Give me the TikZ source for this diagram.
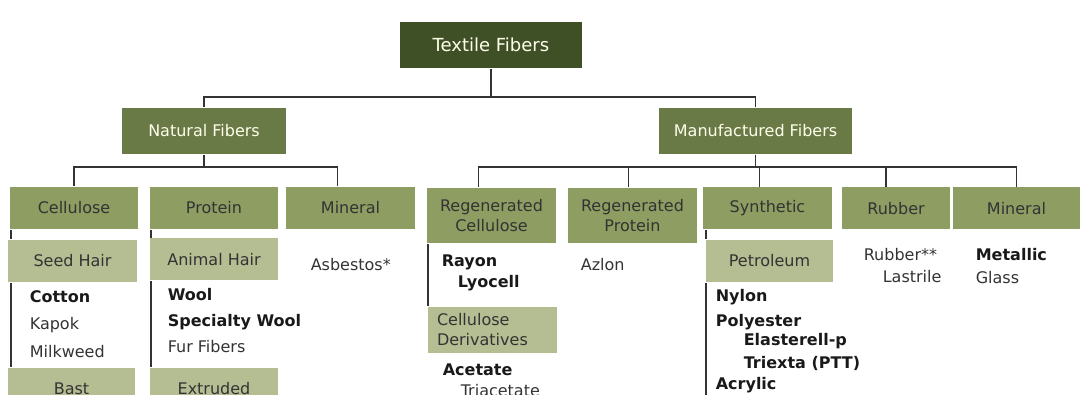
\documentclass[tikz,border=0pt]{standalone}
\usepackage{fontspec}
\setmainfont{DejaVu Sans}
\definecolor{darkgreen}{HTML}{3F5027}
\definecolor{midgreen}{HTML}{6A7A46}
\definecolor{sagegreen}{HTML}{8E9D62}
\definecolor{palegreen}{HTML}{B5BD92}
\def\bush{12}

\begin{document}
\begin{tikzpicture}[x=1pt,y=-1pt,draw=black!80,line width=1.6pt]
  \tikzstyle{every node}=[font=\fontsize{16}{20}\selectfont]
  \tikzstyle{topbox}=[fill=darkgreen,text=white!92!yellow,minimum height=46,inner sep=0pt]
  \tikzstyle{groupbox}=[fill=midgreen,text=white!92!yellow,minimum height=46,inner sep=0pt]
  \tikzstyle{kindbox}=[fill=sagegreen,text=black!80,minimum height=42,minimum width=128,inner sep=0pt,align=center]
  \tikzstyle{subbox}=[fill=palegreen,text=black!80,minimum height=42,minimum width=128,inner sep=0pt,align=center]
  \tikzstyle{fibre}=[anchor=west,inner sep=0pt,text=black!80]
  \tikzstyle{bfibre}=[fibre,text=black!90,font=\fontsize{16}{20}\selectfont\bfseries]

  \useasboundingbox (0,0) rectangle (1081,395);
  \clip (0,0) rectangle (1081,395);

  % top levels
  \node[topbox,minimum width=182,font=\fontsize{18}{22}\selectfont] (T) at (491,45) {Textile Fibers};
  \node[groupbox,minimum width=164] (N) at (204,131) {Natural Fibers};
  \node[groupbox,minimum width=193] (M) at (755.5,131) {Manufactured Fibers};

  % natural kinds
  \node[kindbox] (N-1) at (74,208) {Cellulose};
  \node[kindbox] (N-2) at (214,208) {Protein};
  \node[kindbox,minimum width=129] (N-3) at (350.5,208) {Mineral};

  % manufactured kinds
  \node[kindbox,minimum width=129,minimum height=55] (M-1) at (491.5,215.5) {Regenerated\\Cellulose};
  \node[kindbox,minimum width=129,minimum height=55] (M-2) at (632.5,215.5) {Regenerated\\Protein};
  \node[kindbox,minimum width=129] (M-3) at (767.5,208.5) {Synthetic};
  \node[kindbox,minimum width=108] (M-4) at (896,208.5) {Rubber};
  \node[kindbox,minimum width=127] (M-5) at (1016.5,208.5) {Mineral};

  % sub groups
  \node[subbox,minimum width=129] (seed) at (72.5,261) {Seed Hair};
  \node[subbox] (animal) at (214,259.5) {Animal Hair};
  \node[subbox,minimum width=127] (bast) at (71.5,389) {Bast};
  \node[subbox] (extruded) at (214,389) {Extruded};
  \node[subbox,minimum width=129,minimum height=46,text width=111,align=left] (cellder) at (492.5,330) {Cellulose\\Derivatives};
  \node[subbox,minimum width=127] (petro) at (769.5,261) {Petroleum};

  % fibres
  \foreach \name/\txt/\x/\y in {cotton/Cotton/29/297, wool/Wool/167/295,
      specwool/Specialty Wool/167/322, rayon/Rayon/441/262, lyocell/Lyocell/457/283,
      acetate/Acetate/442/370, nylon/Nylon/715/297, polyester/Polyester/715/322,
      elasterell/Elasterell-p/743/341, triexta/Triexta (PTT)/743/363,
      acrylic/Acrylic/715/385, metallic/Metallic/975/255}
    \node[bfibre] (\name) at (\x,\y) {\txt};

  \foreach \name/\txt/\x/\y in {kapok/Kapok/29/325, milkweed/Milkweed/29/352,
      fur/Fur Fibers/167/347, asbestos/Asbestos*/310/265,
      triacetate/Triacetate/460/391, azlon/Azlon/580/265,
      rubber/Rubber**/863/255, lastrile/Lastrile/882/277, glass/Glass/975/278}
    \node[fibre] (\name) at (\x,\y) {\txt};

  % tree lines
  \draw (T.south) -- ++(0,28) -| (N.north);
  \draw (T.south) -- ++(0,28) -| (M.north);
  \draw (N.south) -- ++(0,\bush) -| (N-1.north);
  \draw (N.south) -- ++(0,\bush) -| ([xshift=-13pt]N-3.north);
  \foreach \i/\dx in {1/-13,2/-4,3/-8,4/-10,5/0}
    \draw (M.south) -- ++(0,\bush) -| ([xshift=\dx pt]M-\i.north);

  % side lines
  \draw ([xshift=4pt]seed.north west) -- ([xshift=4pt]seed.north west |- N-1.south);
  \draw ([xshift=4pt]seed.south west) -- ([xshift=4pt]seed.south west |- bast.north);
  \draw ([xshift=2pt]animal.north west) -- ([xshift=2pt]animal.north west |- N-2.south);
  \draw ([xshift=2pt]animal.south west) -- ([xshift=2pt]animal.south west |- extruded.north);
  \draw ([xshift=2pt]M-1.south west) -- ([xshift=2pt]M-1.south west |- cellder.north);
  \draw ([xshift=1pt]petro.north west) -- ([xshift=1pt]petro.north west |- M-3.south);
  \coordinate (synend) at (707,400);
  \draw ([xshift=1pt]petro.south west) -- ([xshift=1pt]petro.south west |- synend);

\end{tikzpicture}
\end{document}
